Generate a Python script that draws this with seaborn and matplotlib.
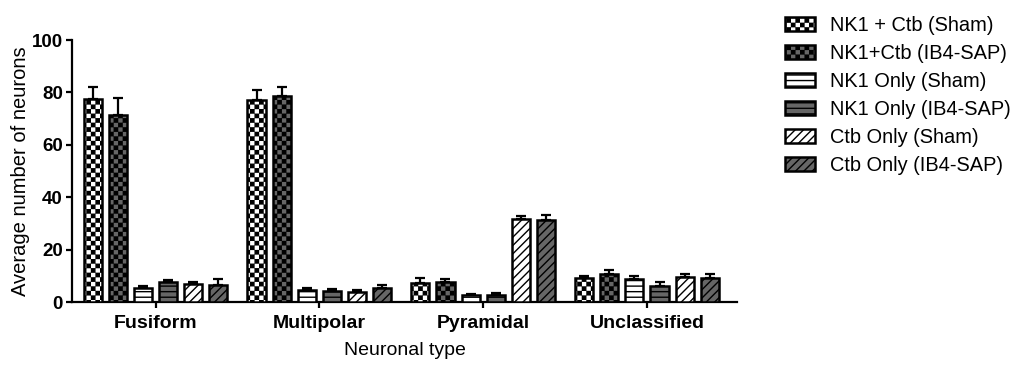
import matplotlib
matplotlib.use('Agg')
import matplotlib.pyplot as plt
import matplotlib.hatch as mhatch
from matplotlib.path import Path
import numpy as np
import pandas as pd
import seaborn as sns

# ---------------- data ----------------
categories = ['Fusiform', 'Multipolar', 'Pyramidal', 'Unclassified']
groups = ['NK1 + Ctb (Sham)', 'NK1+Ctb (IB4-SAP)', 'NK1 Only (Sham)',
          'NK1 Only (IB4-SAP)', 'Ctb Only (Sham)', 'Ctb Only (IB4-SAP)']
mean_nk1ctb_sham = [77.5, 77.0, 7.4, 9.0]
mean_nk1ctb_sap = [71.4, 78.6, 7.6, 10.6]
mean_nk1_sham = [5.3, 4.5, 2.5, 8.9]
mean_nk1_sap = [7.6, 4.3, 2.7, 6.2]
mean_ctb_sham = [7.0, 4.0, 31.5, 9.4]
mean_ctb_sap = [6.5, 5.5, 31.2, 9.0]
sem_nk1ctb_sham = [4.4, 4.0, 1.6, 1.0]
sem_nk1ctb_sap = [6.3, 3.4, 1.0, 1.6]
sem_nk1_sham = [0.8, 1.0, 0.5, 0.9]
sem_nk1_sap = [0.8, 0.6, 0.6, 1.4]
sem_ctb_sham = [0.5, 0.7, 1.3, 1.3]
sem_ctb_sap = [2.2, 0.8, 2.1, 1.7]
yticks = [0, 20, 40, 60, 80, 100]

means = [mean_nk1ctb_sham, mean_nk1ctb_sap, mean_nk1_sham,
         mean_nk1_sap, mean_ctb_sham, mean_ctb_sap]
sems = [sem_nk1ctb_sham, sem_nk1ctb_sap, sem_nk1_sham,
        sem_nk1_sap, sem_ctb_sham, sem_ctb_sap]


# ---------------- checkerboard hatch (replaces '*') ----------------
class CheckerHatch(mhatch.HatchPatternBase):
    def __init__(self, hatch, density):
        self.n = 22 if '*' in hatch else 0
        self.num_vertices = (self.n * self.n // 2) * 5

    def set_vertices_and_codes(self, vertices, codes):
        n = self.n
        s = 1.0 / n
        m = 0.006
        k = 0
        for i in range(n):
            for j in range(n):
                if (i + j) % 2 == 0:
                    x0, y0 = i * s + m, j * s + m
                    x1, y1 = (i + 1) * s - m, (j + 1) * s - m
                    vertices[k:k + 5] = [(x0, y0), (x1, y0), (x1, y1), (x0, y1), (x0, y0)]
                    codes[k] = Path.MOVETO
                    codes[k + 1:k + 4] = Path.LINETO
                    codes[k + 4] = Path.CLOSEPOLY
                    k += 5


mhatch._hatch_types = [CheckerHatch if t is mhatch.Stars else t
                       for t in mhatch._hatch_types]

# ---------------- build table ----------------
rows = []
for g, ms in zip(groups, means):
    for c, v in zip(categories, ms):
        rows.append({'type': c, 'group': g, 'value': v})
df = pd.DataFrame(rows)

fills = ['white', '#666666', 'white', '#666666', 'white', '#666666']
hatches = ['*', '*', '---', '---', '////', '////']
palette = dict(zip(groups, fills))

sns.set_style('ticks')
plt.rcParams['font.family'] = ['Liberation Sans', 'DejaVu Sans']
plt.rcParams['hatch.linewidth'] = 1.0
for key in ['text.color', 'axes.labelcolor', 'xtick.color', 'ytick.color',
            'axes.edgecolor']:
    plt.rcParams[key] = 'black'

fig = plt.figure(figsize=(10.28, 3.65), dpi=100)
ax = fig.add_axes([0.070, 0.1726, 0.647, 0.7178])

sns.barplot(data=df, x='type', y='value', hue='group', order=categories,
            hue_order=groups, palette=palette, saturation=1,
            edgecolor='black', linewidth=1.8, width=0.92, gap=0.28,
            errorbar=None, legend=False, ax=ax)

bar_containers = list(ax.containers)
for cont, h, errs in zip(bar_containers, hatches, sems):
    xs, ys = [], []
    for bar in cont:
        bar.set_hatch(h)
        bar.set_zorder(3)
        xs.append(bar.get_x() + bar.get_width() / 2)
        ys.append(bar.get_height())
    ax.errorbar(xs, ys, yerr=[np.zeros(len(errs)), errs], fmt='none',
                ecolor='black', elinewidth=1.6, capsize=3.4, capthick=1.6,
                zorder=2)

ax.set_ylim(0, 100)
ax.set_xlim(-0.51, 3.55)
ax.set_yticks(yticks)
sns.despine(ax=ax)
for sp in ['left', 'bottom']:
    ax.spines[sp].set_linewidth(1.6)
    ax.spines[sp].set_color('black')
ax.tick_params(axis='both', direction='out', length=4.5, width=1.6,
               labelsize=13.5, pad=2, color='black', labelcolor='black')
ax.tick_params(axis='x', labelsize=14, pad=5)
for lab in ax.get_xticklabels() + ax.get_yticklabels():
    lab.set_fontweight('bold')
ax.set_xlabel('Neuronal type', fontsize=14, labelpad=7, color='black')
ax.set_ylabel('Average number of neurons', fontsize=14.5, labelpad=1.5,
              color='black')

leg = ax.legend(bar_containers, groups, loc='upper left',
                bbox_to_anchor=(0.764, 0.956), bbox_transform=fig.transFigure,
                frameon=False, fontsize=14.4, handlelength=1.5,
                handleheight=0.72, handletextpad=0.72, labelspacing=0.45,
                borderaxespad=0, borderpad=0, labelcolor='black')

fig.savefig('out.png', dpi=100)
